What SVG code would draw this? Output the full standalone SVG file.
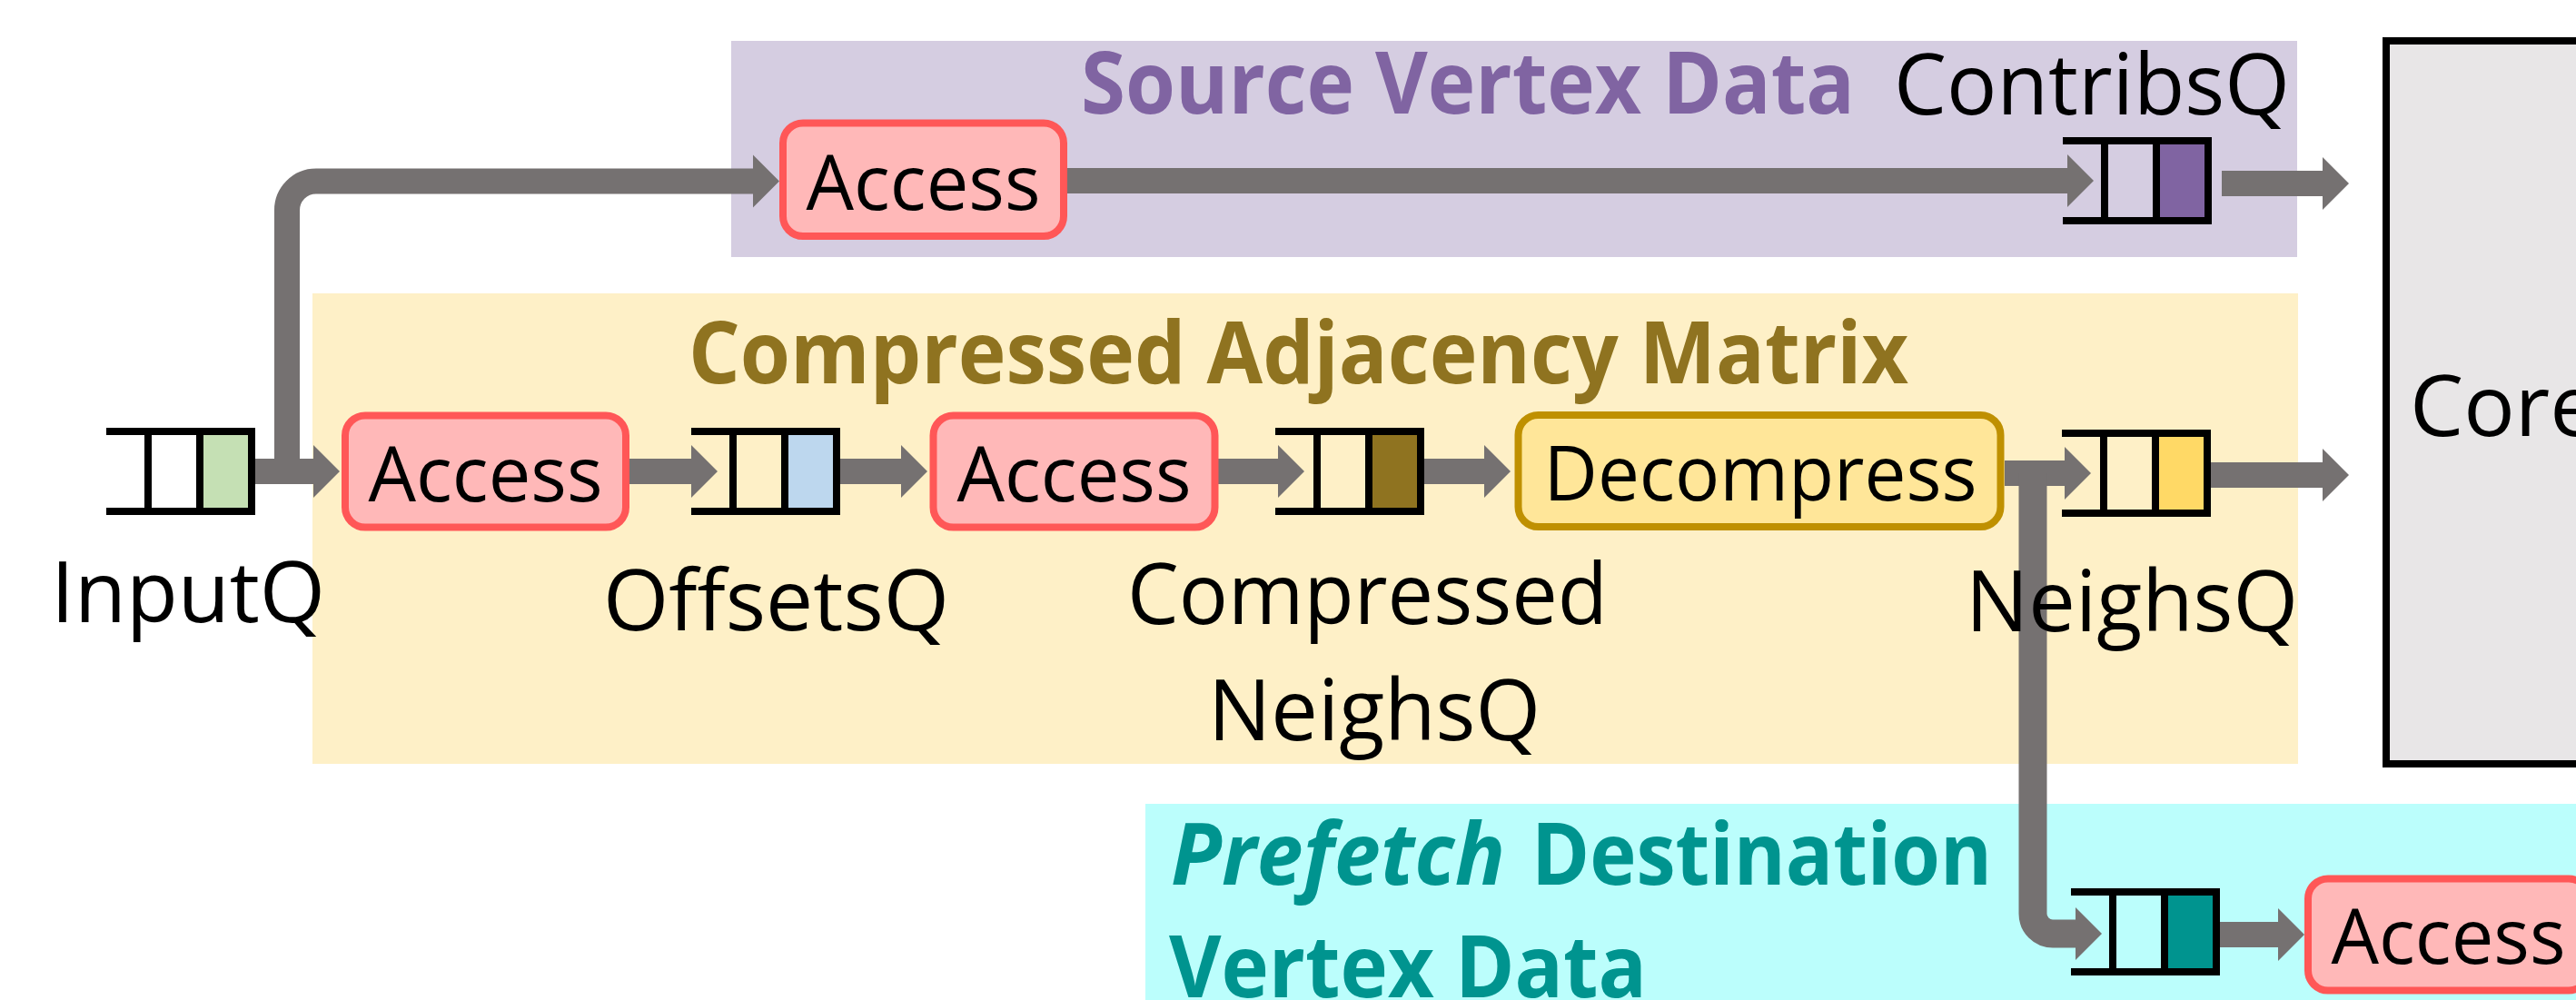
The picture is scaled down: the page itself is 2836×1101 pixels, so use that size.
<svg xmlns="http://www.w3.org/2000/svg" width="2836" height="1101" viewBox="0 0 2836 1101">
  <defs>
    <style>
      .txt { font-family: "Open Sans", "Liberation Sans", sans-serif; fill: #000; }
      .lbl { font-size: 94px; }
      .btxt { font-size: 84px; }
      .title { font-size: 95px; font-weight: bold; }
      .conn { fill: none; stroke: #757171; stroke-width: 28; stroke-linejoin: round; }
      .qline { stroke: #000; stroke-width: 8; fill: none; }
      .access { fill: #FFB8B8; stroke: #FF5757; stroke-width: 8; }
      .decomp { fill: #FFE699; stroke: #BF9000; stroke-width: 8; }
    </style>
    <marker id="head" markerUnits="userSpaceOnUse" markerWidth="30" markerHeight="60" refX="0" refY="29" orient="auto" overflow="visible">
      <path d="M0,0 L29,29 L0,58 z" fill="#757171"/>
    </marker>
    <!-- three-slot queue, open on the left; last slot filled per instance -->
    <g id="queue">
      <path class="qline" d="M0,4 H164 M0,92 H164 M46,0 V96 M103,0 V96 M160,0 V96"/>
    </g>
  </defs>

  <!-- background regions -->
  <g id="regions">
    <rect id="src-region" x="805" y="45" width="1724" height="238" fill="#D5CDE1"/>
    <rect id="adj-region" x="344" y="323" width="2186" height="518" fill="#FEF0C7"/>
    <rect id="dst-region" x="1261" y="885" width="1580" height="220" fill="#BBFEFC"/>
  </g>

  <!-- core -->
  <g id="core">
    <rect x="2627" y="45" width="400" height="796" fill="#E8E6E7" stroke="#000" stroke-width="8"/>
    <text class="txt lbl" x="2653" y="480">Core</text>
  </g>

  <!-- connectors -->
  <g id="connectors">
    <path class="conn" d="M316,519 V232 A32,32 0 0 1 348,199.5 H829" marker-end="url(#head)"/>
    <path class="conn" d="M1175,199 H2276" marker-end="url(#head)"/>
    <path class="conn" d="M2446,202 H2557" marker-end="url(#head)"/>
    <path class="conn" d="M281,519 H345" marker-end="url(#head)"/>
    <path class="conn" d="M693,519 H761" marker-end="url(#head)"/>
    <path class="conn" d="M924,519 H992" marker-end="url(#head)"/>
    <path class="conn" d="M1341,519 H1407" marker-end="url(#head)"/>
    <path class="conn" d="M1568,519 H1634" marker-end="url(#head)"/>
    <path class="conn" d="M2207,521 H2273" marker-end="url(#head)"/>
    <path class="conn" style="stroke-width:31" d="M2238,521 V1006 A22,22 0 0 0 2260,1028 H2285" marker-end="url(#head)"/>
    <path class="conn" d="M2433,523 H2557" marker-end="url(#head)"/>
    <path class="conn" d="M2443,1029 H2508" marker-end="url(#head)"/>
  </g>

  <!-- queues -->
  <g id="inputq" transform="translate(117,471)">
    <rect x="107" y="8" width="49" height="80" fill="#C5E0B4"/>
    <use href="#queue"/>
  </g>
  <g id="offsetsq" transform="translate(761,471)">
    <rect x="107" y="8" width="49" height="80" fill="#BDD7EE"/>
    <use href="#queue"/>
  </g>
  <g id="compressedq" transform="translate(1404,471)">
    <rect x="107" y="8" width="49" height="80" fill="#8F7320"/>
    <use href="#queue"/>
  </g>
  <g id="neighsq" transform="translate(2270,473)">
    <rect x="107" y="8" width="49" height="80" fill="#FFD966"/>
    <use href="#queue"/>
  </g>
  <g id="contribsq" transform="translate(2271,151)">
    <rect x="107" y="8" width="49" height="80" fill="#8064A2"/>
    <use href="#queue"/>
  </g>
  <g id="prefetchq" transform="translate(2280,978)">
    <rect x="107" y="8" width="49" height="80" fill="#00948F"/>
    <use href="#queue"/>
  </g>

  <!-- processing stages -->
  <g id="access-src">
    <rect class="access" x="862" y="135.5" width="309" height="124.5" rx="22"/>
    <text class="txt btxt" x="1016.5" y="231" text-anchor="middle" textLength="258" lengthAdjust="spacingAndGlyphs">Access</text>
  </g>
  <g id="access-offsets">
    <rect class="access" x="380" y="457.5" width="309" height="123" rx="22"/>
    <text class="txt btxt" x="534.5" y="552" text-anchor="middle" textLength="258" lengthAdjust="spacingAndGlyphs">Access</text>
  </g>
  <g id="access-neighs">
    <rect class="access" x="1027.5" y="457.5" width="310" height="123" rx="22"/>
    <text class="txt btxt" x="1182.5" y="552" text-anchor="middle" textLength="258" lengthAdjust="spacingAndGlyphs">Access</text>
  </g>
  <g id="decompress">
    <rect class="decomp" x="1671.5" y="457" width="531" height="123" rx="22"/>
    <text class="txt btxt" x="1938" y="551" text-anchor="middle" textLength="477" lengthAdjust="spacingAndGlyphs">Decompress</text>
  </g>
  <g id="access-dst">
    <rect class="access" x="2541" y="967.5" width="309" height="123" rx="22"/>
    <text class="txt btxt" x="2695.5" y="1060.5" text-anchor="middle" textLength="258" lengthAdjust="spacingAndGlyphs">Access</text>
  </g>

  <!-- queue labels -->
  <g id="labels">
    <text class="txt lbl" x="207" y="685" text-anchor="middle" textLength="302" lengthAdjust="spacingAndGlyphs">InputQ</text>
    <text class="txt lbl" x="854.5" y="694" text-anchor="middle" textLength="381" lengthAdjust="spacingAndGlyphs">OffsetsQ</text>
    <text class="txt lbl" x="1505.5" y="687" text-anchor="middle" textLength="529" lengthAdjust="spacingAndGlyphs">Compressed</text>
    <text class="txt lbl" x="1513" y="815" text-anchor="middle" textLength="366" lengthAdjust="spacingAndGlyphs">NeighsQ</text>
    <text class="txt lbl" x="2347" y="695" text-anchor="middle" textLength="366" lengthAdjust="spacingAndGlyphs">NeighsQ</text>
    <text class="txt lbl" x="2303" y="125.5" text-anchor="middle" textLength="436" lengthAdjust="spacingAndGlyphs">ContribsQ</text>
  </g>

  <!-- region titles -->
  <g id="titles">
    <text class="txt title" x="1616" y="124.5" text-anchor="middle" style="fill:#8064A2" textLength="852" lengthAdjust="spacingAndGlyphs">Source Vertex Data</text>
    <text class="txt title" x="1429.5" y="421.5" text-anchor="middle" style="fill:#8F7320" textLength="1343" lengthAdjust="spacingAndGlyphs">Compressed Adjacency Matrix</text>
    <text class="txt title" x="1289" y="974" style="fill:#00948F;font-style:italic" textLength="368" lengthAdjust="spacingAndGlyphs">Prefetch</text>
    <text class="txt title" x="1686" y="974" style="fill:#00948F" textLength="507" lengthAdjust="spacingAndGlyphs">Destination</text>
    <text class="txt title" x="1287" y="1098" style="fill:#00948F" textLength="526" lengthAdjust="spacingAndGlyphs">Vertex Data</text>
  </g>
</svg>
